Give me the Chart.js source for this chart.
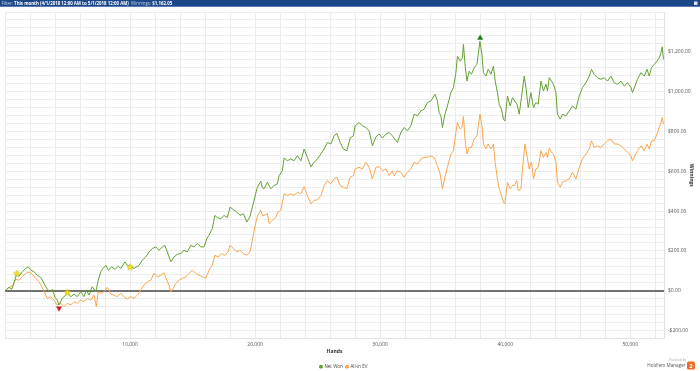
<!DOCTYPE html>
<html><head><meta charset="utf-8">
<script src="https://cdn.jsdelivr.net/npm/chart.js@4.4.1/dist/chart.umd.min.js"></script>
<style>
html,body{margin:0;padding:0;background:#fff;width:700px;height:371px;overflow:hidden;}
#wrap{position:absolute;left:0;top:0;width:700px;height:371px;}
</style></head>
<body><div id="wrap"><canvas id="c" width="700" height="371"></canvas></div>
<script>
// ---- data ----
const headerParts = [["Filter: ", false], ["This month (4/1/2018 12:00 AM to 5/1/2018 12:00 AM)", true], ["  Winnings: ", false], ["$1,162.05", true]];
const seriesNames = ["Net Won", "All-in EV"];
const handsMax = 52700;
const handsGridStep = 2000;
const handsLabelStep = 10000;

const netHands = [
  0,320,540,720,940,1120,1380,1660,1860,2060,
  2320,2580,2860,3120,3380,3660,3780,4000,4180,4320,
  4580,4860,4980,5260,5520,5780,6060,6320,6500,6720,
  6980,7260,7460,7660,7840,8060,8260,8540,8800,9060,
  9260,9600,9780,10000,10320,10720,10980,11260,11520,11780,
  12060,12320,12580,12780,12980,13260,13520,13780,14060,14320,
  14580,14860,15120,15380,15660,15920,16140,16320,16580,16780,
  16980,17260,17520,17780,18000,18260,18540,18800,19060,19340,
  19600,19780,19980,20180,20460,20580,20720,20980,21260,21520,
  21780,21920,22180,22320,22580,22860,23120,23380,23660,23920,
  24180,24460,24720,24980,25260,25520,25780,26060,26320,26540,
  26800,27060,27340,27600,27860,28000,28320,28580,28860,29120,
  29380,29660,29920,30180,30460,30720,30980,31380,31660,31920,
  32180,32460,32720,32980,33260,33520,33780,34060,34380,34580,
  34720,34860,34980,35180,35380,35660,35860,36060,36180,36400,
  36580,36660,36800,36940,37120,37300,37520,37740,37980,38140,
  38260,38460,38640,38860,39060,39200,39380,39520,39700,39860,
  39980,40180,40400,40580,40940,41120,41300,41520,41660,41840,
  42060,42260,42460,42640,42860,43060,43260,43380,43520,43700,
  43860,44060,44180,44400,44580,44860,45120,45380,45660,45920,
  46180,46460,46720,46900,47120,47380,47660,47920,48180,48460,
  48720,48980,49260,49520,49780,50060,50180,50380,50580,50860,
  51120,51340,51520,51700,51920,52140,52320,52460,52560,52660
];
const netWon = [
  0,17,7,40,84,73,95,112,120,104,
  95,78,67,37,7,-5,7,-33,-47,-72,
  -38,-22,-8,-30,-17,-30,-5,-30,3,-22,
  20,-5,53,95,112,128,103,120,107,123,
  112,145,128,122,112,128,153,170,195,212,
  220,203,220,228,195,145,170,183,187,203,
  195,228,220,237,220,220,262,278,312,378,
  367,362,378,367,420,407,395,378,387,345,
  373,420,470,520,550,517,512,545,512,528,
  537,578,603,667,653,662,653,678,653,712,
  670,623,645,662,687,712,745,737,778,790,
  745,712,703,767,778,828,845,828,820,803,
  728,773,787,767,787,795,778,745,795,820,
  803,828,887,878,903,912,945,953,987,953,
  895,878,820,887,928,995,1020,1095,1178,1153,
  1170,1237,1128,1053,1103,1087,1120,1137,1253,1187,
  1095,1078,1112,1087,1128,1053,995,937,912,862,
  853,978,928,970,937,887,970,1078,1020,920,
  995,920,945,937,1053,1003,1037,1003,1070,1053,
  1037,995,887,862,887,878,903,928,912,978,
  1020,1045,1078,1112,1087,1070,1062,1070,1053,1078,
  1045,1037,1053,1028,1045,1020,995,1028,1062,1095,
  1078,1112,1078,1120,1137,1153,1170,1195,1225,1162
];

const evHands = [
  0,320,580,860,1120,1380,1660,1920,2180,2460,
  2720,2980,3200,3380,3660,3920,4180,4460,4720,4980,
  5260,5520,5780,6060,6320,6580,6860,7120,7300,7460,
  7660,7920,8180,8460,8720,8980,9260,9520,9780,10060,
  10320,10580,10860,11120,11380,11660,11920,12180,12460,12720,
  12940,13120,13260,13460,13660,13920,14180,14460,14720,14980,
  15260,15520,15780,16060,16320,16580,16780,17040,17300,17580,
  17840,18000,18260,18540,18800,19060,19340,19600,19780,19980,
  20180,20460,20580,20720,20980,21120,21380,21660,21840,22060,
  22320,22580,22860,23120,23380,23660,23920,24180,24460,24720,
  24980,25260,25520,25780,26060,26320,26540,26800,27060,27340,
  27600,27860,28000,28320,28580,28860,29120,29380,29660,29920,
  30180,30460,30720,30980,31120,31380,31660,31920,32180,32460,
  32720,32980,33260,33520,33780,34060,34320,34580,34800,34980,
  35180,35380,35660,35860,36060,36180,36400,36540,36660,36800,
  36940,37120,37300,37520,37740,37980,38140,38260,38460,38640,
  38860,39060,39200,39380,39520,39700,39860,39980,40180,40400,
  40580,40720,40940,41040,41260,41380,41580,41740,41920,42100,
  42260,42460,42640,42860,43060,43260,43380,43520,43700,43860,
  44060,44180,44400,44580,44860,45120,45380,45660,45920,46180,
  46460,46720,46900,47120,47380,47660,47920,48180,48460,48720,
  48980,49260,49520,49780,50060,50180,50380,50580,50860,51120,
  51340,51520,51700,51920,52140,52320,52460,52560,52660
];
const allInEV = [
  0,17,23,57,53,70,87,95,83,62,
  45,17,-13,-38,-30,-47,-72,-63,-80,-63,
  -72,-55,-63,-47,-55,-38,-47,-22,-80,-5,
  -13,-5,17,-17,-22,-30,-13,-30,-42,-30,
  -38,-22,3,28,45,53,87,70,78,90,
  53,28,-5,12,37,53,62,70,87,103,
  87,78,70,62,103,128,178,170,187,178,
  195,228,212,195,203,187,178,195,253,320,
  375,405,378,378,387,337,353,370,395,403,
  487,478,487,478,495,487,523,478,437,453,
  457,478,528,553,537,562,570,528,520,512,
  570,578,612,620,612,645,620,562,620,623,
  603,612,578,603,578,603,595,570,595,612,
  645,637,662,670,670,678,670,628,587,512,
  570,620,687,703,795,845,812,820,875,753,
  687,720,720,762,778,887,828,737,712,737,
  712,737,645,562,512,478,445,437,545,512,
  528,528,553,503,512,612,737,678,612,645,
  562,612,620,703,670,695,670,715,695,687,
  645,545,520,545,553,562,595,562,620,662,
  687,712,753,720,728,720,737,753,762,737,
  737,728,712,695,678,653,678,703,728,703,
  737,712,753,753,787,820,845,870,837
];

// session markers: 3 yellow stars, high (green up) and low (red down)
const markerHands  = [940, 4980, 10000, 38000, 4320];
const markerValues = [87, -8, 120, 1270, -88];
const markerKinds  = ["star", "star", "star", "high", "low"];

// ---- styling ----
const GREEN = '#64a032', ORANGE = '#f9a54e';
const FONT = '"Open Sans", "Noto Sans", sans-serif';

function starImage(){
  const cv = document.createElement('canvas'); cv.width = 8; cv.height = 8;
  const g = cv.getContext('2d');
  g.beginPath();
  for (let i = 0; i < 10; i++){
    const r = i % 2 ? 1.5 : 3.5;
    const a = -Math.PI/2 + i*Math.PI/5;
    g.lineTo(4 + r*Math.cos(a), 4.3 + r*Math.sin(a));
  }
  g.closePath();
  g.fillStyle = '#f4ec18'; g.fill();
  g.strokeStyle = '#c9b600'; g.lineWidth = 0.6; g.stroke();
  return cv;
}
const STAR = starImage();

const money = v => (v < 0 ? '-$' : '$') + Math.abs(v).toLocaleString('en-US', {minimumFractionDigits: 2, maximumFractionDigits: 2});

const decor = {
  id: 'decor',
  beforeDraw(chart){
    const c = chart.ctx;
    c.save();
    c.fillStyle = '#1b4788'; c.fillRect(0, 0, 700, 6);
    c.fillStyle = '#5a7db6'; c.fillRect(0, 6, 700, 1);
    c.textBaseline = 'middle';
    let x = 1.5;
    headerParts.forEach(([t, b]) => {
      c.font = (b ? 'bold ' : '') + '4.4px ' + FONT;
      c.fillStyle = b ? '#ffffff' : '#c5d2ea';
      c.fillText(t, x, 3.3);
      x += c.measureText(t).width;
    });
    c.fillStyle = '#d8e2f1'; c.fillRect(694, 1.5, 3.5, 3.5);
    c.restore();
  },
  afterLayout(chart){
    const lg = chart.legend;
    if (lg){ lg.left -= 9; lg.right -= 9; lg.top += 8; lg.bottom += 8; }
  },
  afterDraw(chart){
    const c = chart.ctx;
    c.save();
    c.textAlign = 'right'; c.textBaseline = 'middle';
    c.font = '3px ' + FONT; c.fillStyle = '#a0a0a0';
    c.fillText('Powered by', 686, 360.5);
    c.font = '4.6px ' + FONT; c.fillStyle = '#555';
    c.fillText("Hold'em Manager", 685.5, 365.5);
    c.fillStyle = '#f26b22';
    c.beginPath();
    if (c.roundRect) c.roundRect(687, 361.5, 8, 8, 1.5); else c.rect(687, 361.5, 8, 8);
    c.fill();
    c.fillStyle = '#fff'; c.textAlign = 'center'; c.font = 'bold 6px ' + FONT;
    c.fillText('2', 691, 365.8);
    c.restore();
  }
};

new Chart(document.getElementById('c'), {
  type: 'line',
  data: {
    datasets: [
      {
        label: 'markers',
        data: markerHands.map((h, i) => ({x: h, y: markerValues[i]})),
        showLine: false,
        order: 0,
        pointStyle: markerKinds.map(k => k === 'star' ? STAR : 'triangle'),
        pointRotation: markerKinds.map(k => k === 'low' ? 180 : 0),
        pointRadius: markerKinds.map(k => k === 'star' ? 4 : 3),
        backgroundColor: markerKinds.map(k => k === 'high' ? '#1d7a1d' : (k === 'low' ? '#d41a1a' : '#f4ec18')),
        borderColor: markerKinds.map(k => k === 'high' ? '#1d7a1d' : (k === 'low' ? '#d41a1a' : '#c9b600')),
        borderWidth: 0.5
      },
      {
        label: seriesNames[0],
        data: netHands.map((h, i) => ({x: h, y: netWon[i]})),
        borderColor: GREEN, backgroundColor: GREEN,
        borderWidth: 1, pointRadius: 0, tension: 0, order: 1
      },
      {
        label: seriesNames[1],
        data: evHands.map((h, i) => ({x: h, y: allInEV[i]})),
        borderColor: ORANGE, backgroundColor: ORANGE,
        borderWidth: 1, pointRadius: 0, tension: 0, order: 2
      }
    ]
  },
  options: {
    responsive: false,
    animation: false,
    events: [],
    layout: {padding: {left: 5, top: 12, right: 0, bottom: 0}},
    plugins: {
      tooltip: {enabled: false},
      legend: {
        position: 'bottom',
        labels: {
          filter: item => item.text !== 'markers',
          usePointStyle: true, pointStyle: 'rect',
          boxWidth: 2.5, boxHeight: 2.5, padding: 3,
          color: '#444', font: {family: FONT, size: 4.5}
        }
      }
    },
    scales: {
      x: {
        type: 'linear', min: 0, max: handsMax,
        afterFit: s => { s.height = 15; },
        afterBuildTicks: s => {
          const t = [];
          for (let v = 0; v < handsMax; v += handsGridStep) t.push({value: v});
          t.push({value: handsMax});
          s.ticks = t;
        },
        grid: {color: '#ececec', lineWidth: 1, drawTicks: false},
        border: {color: '#e2e2e2'},
        ticks: {
          autoSkip: false, maxRotation: 0, padding: 3,
          color: '#555', font: {family: FONT, size: 5},
          callback: v => (v > 0 && v % handsLabelStep === 0) ? v.toLocaleString('en-US') : ''
        },
        title: {display: true, text: 'Hands', color: '#333', font: {family: FONT, size: 5, weight: 'bold'}, padding: {top: 0, bottom: -1}}
      },
      y: {
        type: 'linear', position: 'right', min: -240, max: 1400,
        afterFit: s => { s.width = 36; },
        grid: {
          drawTicks: false,
          color: ctx => ctx.tick && ctx.tick.value === 0 ? '#727272' : '#ededed',
          lineWidth: ctx => ctx.tick && ctx.tick.value === 0 ? 2 : 1
        },
        border: {color: '#e2e2e2'},
        ticks: {
          stepSize: 40, autoSkip: false, maxTicksLimit: 100, padding: 4,
          color: '#555', font: {family: FONT, size: 5},
          callback: v => (v % 200 === 0 && v < 1400 && v > -240) ? money(v) : ''
        },
        title: {display: true, text: 'Winnings', color: '#333', font: {family: FONT, size: 5, weight: 'bold'}, padding: {top: 6, bottom: 0}}
      }
    }
  },
  plugins: [decor]
});
</script>
</body></html>
